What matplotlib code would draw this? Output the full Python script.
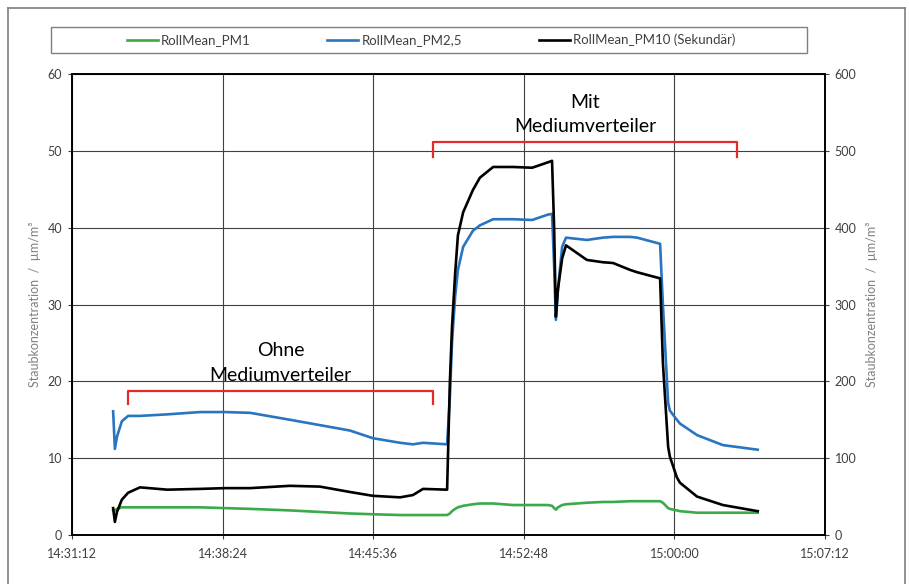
import matplotlib
matplotlib.use("Agg")
import matplotlib.pyplot as plt
import matplotlib.dates as mdates
from matplotlib.lines import Line2D
from matplotlib.patches import Rectangle
import pandas as pd

plt.rcParams['font.family'] = ['Lato', 'DejaVu Sans']

# ---------------- data ----------------
times = ["14:33:10", "14:33:15", "14:33:21", "14:33:35", "14:33:53", "14:34:27",
         "14:35:45", "14:37:19", "14:38:31", "14:39:43", "14:41:37", "14:43:03",
         "14:44:29", "14:45:35", "14:46:53", "14:47:30", "14:47:59", "14:49:08",
         "14:49:16", "14:49:22", "14:49:31", "14:49:39", "14:49:54", "14:50:22",
         "14:50:42", "14:51:20", "14:52:17", "14:53:12", "14:53:57", "14:54:09",
         "14:54:15", "14:54:20", "14:54:26", "14:54:38", "14:54:49", "14:55:49",
         "14:56:35", "14:57:04", "14:57:53", "14:58:13", "14:59:19", "14:59:27",
         "14:59:42", "14:59:47", "15:00:07", "15:00:16", "15:01:05", "15:02:19",
         "15:03:59"]

pm1 = [3.3, 3.2, 3.4, 3.6, 3.6, 3.6, 3.6, 3.6, 3.5, 3.4, 3.2, 3.0,
       2.8, 2.7, 2.6, 2.6, 2.6, 2.6, 2.8, 3.1, 3.4, 3.6, 3.8, 4.0,
       4.1, 4.1, 3.9, 3.9, 3.9, 3.8, 3.5, 3.3, 3.6, 3.9, 4.0, 4.2,
       4.3, 4.3, 4.4, 4.4, 4.4, 4.2, 3.5, 3.4, 3.2, 3.1, 2.9, 2.9, 2.9]

pm25 = [16.1, 11.2, 12.8, 14.8, 15.5, 15.5, 15.7, 16.0, 16.0, 15.9, 15.0, 14.3,
        13.6, 12.6, 12.0, 11.8, 12.0, 11.8, 18.0, 25.0, 31.0, 34.5, 37.5, 39.6,
        40.3, 41.1, 41.1, 41.0, 41.7, 41.8, 35.0, 28.0, 32.0, 37.5, 38.7, 38.4,
        38.7, 38.8, 38.8, 38.7, 37.9, 30.0, 17.2, 16.2, 15.0, 14.5, 13.0, 11.7, 11.1]

pm10 = [35, 17, 30, 46, 55, 62, 59, 60, 61, 61, 64, 63,
        56, 51, 49, 52, 60, 59, 200, 270, 340, 390, 420, 449,
        465, 479, 479, 478, 485, 487, 400, 284, 320, 360, 377, 358,
        355, 354, 345, 342, 334, 224, 115, 102, 75, 68, 50, 39, 31]

x_ticks = ["14:31:12", "14:38:24", "14:45:36", "14:52:48", "15:00:00", "15:07:12"]
labels = ["RollMean_PM1", "RollMean_PM2,5", "RollMean_PM10 (Sekundär)"]

# annotation brackets (time span)
ohne_span = ["14:33:53", "14:48:28"]
mit_span = ["14:48:28", "15:03:00"]

def tt(lst):
    return pd.to_datetime(["2020-01-01 " + s for s in lst])

t = tt(times)
xt = tt(x_ticks)

# ---------------- figure ----------------
fig = plt.figure(figsize=(9.09, 5.84), dpi=100)
W, H = 909, 584
ax = fig.add_axes([72 / W, 1 - 535 / H, (825 - 72) / W, (535 - 74) / H])
ax2 = ax.twinx()

c_green = '#3aaa4a'
c_blue = '#2a75c0'
l1, = ax.plot(t, pm1, color=c_green, lw=1.9, solid_joinstyle='round')
l2, = ax.plot(t, pm25, color=c_blue, lw=1.9, solid_joinstyle='round')
l3, = ax2.plot(t, pm10, color='black', lw=1.9, solid_joinstyle='round')

ax.set_xlim(xt[0], xt[-1])
ax.set_ylim(0, 60)
ax2.set_ylim(0, 600)
ax.set_xticks(xt)
ax.xaxis.set_major_formatter(mdates.DateFormatter('%H:%M:%S'))
ax.set_yticks(range(0, 61, 10))
ax2.set_yticks(range(0, 601, 100))

ax.grid(True, color='#404040', lw=0.8)
ax.set_axisbelow(True)
for a in (ax, ax2):
    for s in a.spines.values():
        s.set_color('black')
        s.set_linewidth(1.2)
    a.tick_params(colors='#404040', labelsize=9, length=3, width=0.8, pad=4)
    a.tick_params(axis='x', pad=6)

ax.set_ylabel("Staubkonzentration  /  µm/m³", color='#808080', fontsize=9, labelpad=5)
ax2.set_ylabel("Staubkonzentration  /  µm/m³", color='#808080', fontsize=9, labelpad=7)

# brackets
red = '#e42a2a'
o = tt(ohne_span)
ax.plot([o[0], o[0], o[1], o[1]], [17.1, 18.8, 18.8, 17.1], color=red, lw=1.6)
m = tt(mit_span)
ax.plot([m[0], m[0], m[1], m[1]], [49.2, 51.2, 51.2, 49.2], color=red, lw=1.6)

ax.text(pd.Timestamp("2020-01-01 14:41:10"), 19.7, "Ohne\nMediumverteiler",
        ha='center', va='bottom', fontsize=14, linespacing=1.55, color='black')
ax.text(pd.Timestamp("2020-01-01 14:55:44"), 52.0, "Mit\nMediumverteiler",
        ha='center', va='bottom', fontsize=14, linespacing=1.55, color='black')

# legend frame + legend
fig.add_artist(Rectangle((51 / W, 1 - 53 / H), (807 - 51) / W, 26 / H,
                         transform=fig.transFigure, fill=False,
                         edgecolor='#7f7f7f', lw=1.0))
leg = fig.legend([l1, l2, l3], labels, loc='center',
                 bbox_to_anchor=(431 / W, 1 - 40 / H), ncol=3, frameon=False,
                 fontsize=9.5, handlelength=2.35, handletextpad=0.25,
                 columnspacing=5.8, labelcolor='#404040')

# outer border (left, top, right)
bc = '#7f7f7f'
fig.add_artist(Line2D([8 / W, 8 / W], [0, 1 - 8 / H], color=bc, lw=1.2, transform=fig.transFigure))
fig.add_artist(Line2D([8 / W, 905 / W], [1 - 8 / H, 1 - 8 / H], color=bc, lw=1.2, transform=fig.transFigure))
fig.add_artist(Line2D([905 / W, 905 / W], [0, 1 - 8 / H], color=bc, lw=1.2, transform=fig.transFigure))

fig.savefig("out.png", dpi=100)
